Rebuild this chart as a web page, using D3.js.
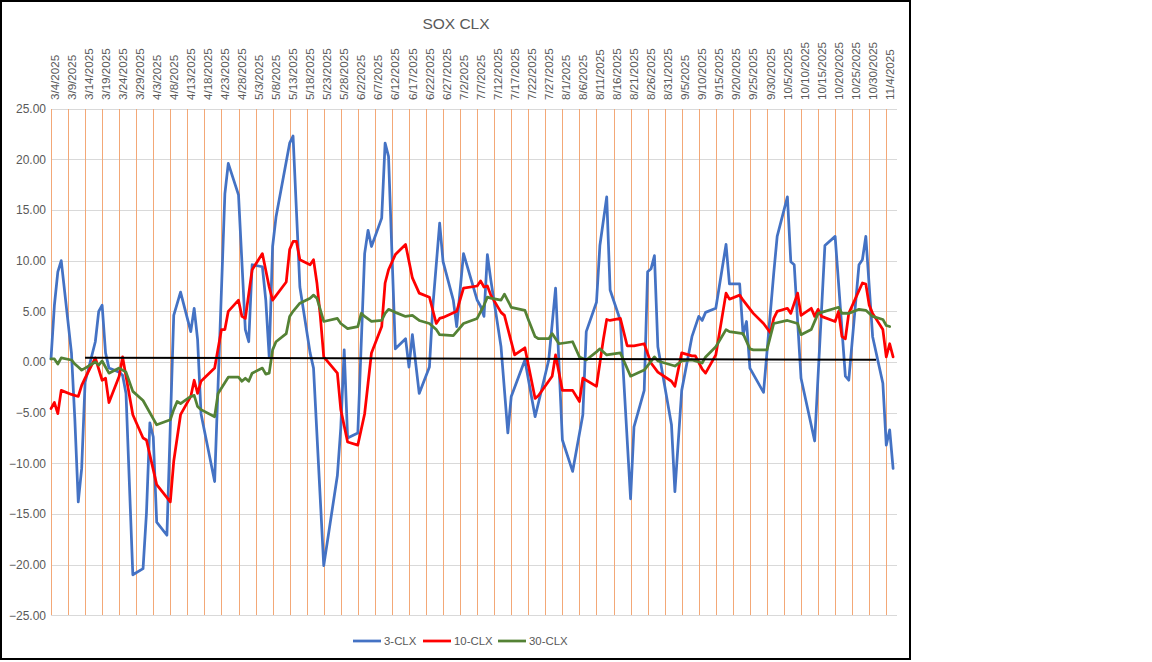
<!DOCTYPE html>
<html>
<head>
<meta charset="utf-8">
<script src="https://cdn.jsdelivr.net/npm/d3@7"></script>
<style>
  body { margin: 0; background: #fff; }
  text { font-family: "Liberation Sans", Arial, sans-serif; fill: #595959; }
</style>
</head>
<body>
<svg id="chart" width="1152" height="662"></svg>
<script>
// values, [date, value]
const clx3 = [["3/4",0.3],["3/5",5.6],["3/6",8.9],["3/7",10.0],["3/10",0.9],["3/11",-5.7],["3/12",-13.8],["3/13",-10.5],["3/14",-2.0],["3/17",2.0],["3/18",5.0],["3/19",5.6],["3/20",0.9],["3/21",-0.6],["3/24",-1.0],["3/25",-1.3],["3/26",-3.1],["3/28",-21.0],["3/31",-20.4],["4/1",-14.9],["4/2",-6.0],["4/3",-7.4],["4/4",-15.8],["4/7",-17.1],["4/9",4.6],["4/11",6.9],["4/14",3.0],["4/15",5.3],["4/16",2.2],["4/17",-5.1],["4/21",-11.8],["4/24",16.6],["4/25",19.6],["4/28",16.5],["4/30",3.2],["5/1",2.0],["5/2",9.6],["5/5",9.4],["5/6",6.1],["5/7",0.5],["5/8",11.4],["5/9",14.3],["5/13",21.6],["5/14",22.3],["5/16",7.4],["5/19",0.9],["5/20",-0.6],["5/23",-20.1],["5/27",-11.2],["5/28",-6.5],["5/29",1.2],["5/30",-7.5],["6/2",-7.0],["6/4",10.7],["6/5",13.0],["6/6",11.4],["6/9",14.2],["6/10",21.6],["6/11",20.3],["6/13",1.3],["6/16",2.3],["6/17",-0.5],["6/18",2.7],["6/20",-3.1],["6/23",-0.5],["6/24",5.5],["6/26",13.7],["6/27",9.9],["6/30",6.1],["7/1",3.5],["7/3",10.7],["7/7",6.1],["7/8",5.5],["7/9",4.5],["7/10",10.6],["7/11",8.1],["7/14",1.5],["7/16",-7.0],["7/17",-3.4],["7/21",0.2],["7/24",-5.4],["7/28",0.2],["7/30",7.3],["8/1",-7.7],["8/4",-10.8],["8/7",-5.2],["8/8",3.0],["8/11",5.9],["8/12",11.5],["8/14",16.3],["8/15",7.1],["8/18",4.1],["8/21",-13.5],["8/22",-6.4],["8/25",-2.8],["8/26",8.9],["8/27",9.2],["8/28",10.5],["8/29",1.5],["9/2",-6.2],["9/3",-12.8],["9/5",-2.8],["9/8",2.5],["9/10",4.5],["9/11",4.1],["9/12",4.9],["9/15",5.3],["9/16",7.4],["9/18",11.6],["9/19",7.7],["9/22",7.7],["9/23",2.7],["9/24",4.0],["9/25",-0.6],["9/29",-3.0],["10/2",8.8],["10/3",12.4],["10/6",16.3],["10/7",9.9],["10/8",9.6],["10/10",-1.6],["10/14",-7.8],["10/17",11.5],["10/20",12.4],["10/23",-1.4],["10/24",-1.8],["10/27",9.6],["10/28",10.1],["10/29",12.4],["10/31",2.5],["11/3",-2.1],["11/4",-8.2],["11/5",-6.7],["11/6",-10.5]];

const clx10 = [["3/4",-4.6],["3/5",-4.0],["3/6",-5.1],["3/7",-2.8],["3/10",-3.2],["3/12",-3.4],["3/13",-2.3],["3/14",-1.6],["3/17",0.4],["3/19",-1.8],["3/20",-1.6],["3/21",-4.0],["3/24",-1.4],["3/25",0.5],["3/26",-1.4],["3/28",-5.2],["3/31",-7.5],["4/1",-7.7],["4/4",-12.1],["4/8",-13.8],["4/9",-9.8],["4/11",-5.2],["4/14",-3.4],["4/15",-1.8],["4/16",-3.1],["4/17",-1.9],["4/21",-0.6],["4/23",3.2],["4/24",3.2],["4/25",5.0],["4/28",6.1],["4/29",4.5],["4/30",4.3],["5/2",9.1],["5/5",10.7],["5/7",7.4],["5/8",6.1],["5/12",7.9],["5/13",11.1],["5/14",11.9],["5/15",11.9],["5/16",10.1],["5/19",9.6],["5/20",10.1],["5/21",7.8],["5/22",4.5],["5/23",0.5],["5/27",-1.1],["5/28",-4.7],["5/30",-7.9],["6/2",-8.2],["6/4",-5.1],["6/5",-2.1],["6/6",0.9],["6/9",3.5],["6/10",7.8],["6/11",9.1],["6/13",10.6],["6/16",11.6],["6/18",8.3],["6/20",6.8],["6/23",6.4],["6/25",3.8],["6/26",4.3],["6/27",4.4],["7/1",5.0],["7/3",7.3],["7/7",7.5],["7/8",8.0],["7/9",7.4],["7/10",7.5],["7/11",6.6],["7/14",4.9],["7/15",4.6],["7/18",0.7],["7/21",1.4],["7/24",-3.6],["7/25",-3.3],["7/29",-1.4],["7/30",0.7],["8/1",-2.8],["8/4",-2.8],["8/6",-3.9],["8/7",-1.6],["8/11",-2.4],["8/13",2.2],["8/14",4.2],["8/15",4.1],["8/18",4.3],["8/20",1.6],["8/22",1.6],["8/25",1.8],["8/27",-0.1],["8/29",-1.0],["9/2",-1.9],["9/3",-2.4],["9/5",0.9],["9/8",0.6],["9/9",0.6],["9/11",-0.7],["9/12",-1.1],["9/15",0.7],["9/18",6.8],["9/19",6.2],["9/22",6.6],["9/23",6.1],["9/26",4.8],["9/29",3.8],["10/1",2.9],["10/2",4.3],["10/3",5.0],["10/6",5.3],["10/7",4.8],["10/9",6.8],["10/10",4.6],["10/13",5.3],["10/14",4.5],["10/15",5.2],["10/16",4.5],["10/20",4.0],["10/21",5.0],["10/22",2.5],["10/23",2.3],["10/24",4.8],["10/28",7.8],["10/29",7.7],["10/30",5.6],["10/31",4.8],["11/3",3.2],["11/4",0.5],["11/5",1.8],["11/6",0.5]];

const clx30 = [["3/4",0.3],["3/5",0.3],["3/6",-0.2],["3/7",0.4],["3/10",0.2],["3/11",-0.2],["3/12",-0.5],["3/13",-0.8],["3/14",-0.6],["3/17",0.0],["3/18",-0.3],["3/19",0.1],["3/21",-1.1],["3/24",-0.6],["3/26",-1.0],["3/28",-2.9],["3/31",-3.8],["4/4",-6.2],["4/8",-5.7],["4/9",-4.7],["4/10",-3.9],["4/11",-4.1],["4/14",-3.4],["4/15",-3.3],["4/16",-4.4],["4/17",-4.7],["4/21",-5.4],["4/22",-3.1],["4/25",-1.5],["4/28",-1.5],["4/29",-1.9],["4/30",-1.6],["5/1",-1.9],["5/2",-1.1],["5/5",-0.6],["5/6",-1.2],["5/7",-1.1],["5/8",1.2],["5/9",2.0],["5/12",2.8],["5/13",4.5],["5/14",5.0],["5/16",5.8],["5/19",6.3],["5/20",6.6],["5/21",6.3],["5/23",4.0],["5/27",4.3],["5/28",3.8],["5/30",3.3],["6/2",3.5],["6/3",4.8],["6/4",4.5],["6/6",4.0],["6/9",4.1],["6/10",4.8],["6/11",5.2],["6/13",4.9],["6/16",4.5],["6/18",4.6],["6/20",4.1],["6/23",3.8],["6/25",3.2],["6/26",2.7],["6/30",2.6],["7/1",3.0],["7/3",3.8],["7/7",4.3],["7/9",5.6],["7/10",6.4],["7/11",6.3],["7/14",6.1],["7/15",6.7],["7/17",5.4],["7/21",5.1],["7/22",4.2],["7/24",2.5],["7/25",2.3],["7/28",2.3],["7/29",2.8],["7/31",1.8],["8/4",2.0],["8/6",0.5],["8/8",0.2],["8/11",1.0],["8/12",1.3],["8/14",0.7],["8/18",0.9],["8/21",-1.4],["8/25",-0.8],["8/28",0.5],["8/29",0.1],["9/3",-0.4],["9/5",0.1],["9/8",0.2],["9/11",-0.1],["9/12",0.5],["9/15",1.5],["9/18",3.2],["9/19",3.0],["9/23",2.8],["9/25",1.3],["9/26",1.2],["9/30",1.2],["10/2",3.8],["10/6",4.1],["10/9",3.8],["10/10",2.7],["10/13",3.2],["10/15",4.8],["10/17",5.0],["10/21",5.4],["10/22",4.8],["10/24",4.8],["10/27",5.2],["10/29",5.1],["10/31",4.5],["11/3",4.2],["11/4",3.6],["11/5",3.5]];

// black reference line (start / end)
const refLine = [["3/14",0.43],["11/1",0.22]];

const seriesNames = ["3-CLX", "10-CLX", "30-CLX"];
const seriesColors = ["#4472C4", "#FF0000", "#548235"];

const xTickLabels = ["3/4/2025","3/9/2025","3/14/2025","3/19/2025","3/24/2025","3/29/2025","4/3/2025","4/8/2025","4/13/2025","4/18/2025","4/23/2025","4/28/2025","5/3/2025","5/8/2025","5/13/2025","5/18/2025","5/23/2025","5/28/2025","6/2/2025","6/7/2025","6/12/2025","6/17/2025","6/22/2025","6/27/2025","7/2/2025","7/7/2025","7/12/2025","7/17/2025","7/22/2025","7/27/2025","8/1/2025","8/6/2025","8/11/2025","8/16/2025","8/21/2025","8/26/2025","8/31/2025","9/5/2025","9/10/2025","9/15/2025","9/20/2025","9/25/2025","9/30/2025","10/5/2025","10/10/2025","10/15/2025","10/20/2025","10/25/2025","10/30/2025","11/4/2025"];
const yTicks = [-25, -20, -15, -10, -5, 0, 5, 10, 15, 20, 25];

const parse = d3.utcParse("%m/%d/%Y");
const toDate = s => parse(s.split("/").length === 3 ? s : s + "/2025");

const plot = {left: 51, right: 896.5, top: 108.7, bottom: 615.3};

const svg = d3.select("#chart");

// chart frame
svg.append("rect")
    .attr("x", 1).attr("y", 1).attr("width", 909).attr("height", 658)
    .attr("fill", "#fff").attr("stroke", "#000").attr("stroke-width", 2);

const x = d3.scaleUtc().domain([toDate("3/4"), toDate("11/7")]).range([plot.left, plot.right]);
const y = d3.scaleLinear().domain([-25, 25]).range([plot.bottom, plot.top]);

// horizontal grid + y labels
svg.append("g")
    .attr("transform", `translate(${plot.left},0)`)
    .call(d3.axisLeft(y).tickValues(yTicks).tickFormat(d3.format(".2f"))
        .tickSize(-(plot.right - plot.left)).tickPadding(5))
    .call(g => g.select(".domain").remove())
    .call(g => g.selectAll(".tick line").attr("stroke", "#D9D9D9").attr("shape-rendering", "crispEdges"))
    .call(g => g.selectAll(".tick text").attr("fill", "#595959")
        .style("font-size", "12px").style("font-family", "'Liberation Sans', Arial, sans-serif"));

// vertical grid
svg.append("g")
    .attr("transform", `translate(0,${plot.bottom})`)
    .call(d3.axisTop(x).tickValues(xTickLabels.map(toDate)).tickFormat("")
        .tickSize(plot.bottom - plot.top))
    .call(g => g.select(".domain").remove())
    .call(g => g.selectAll(".tick line").attr("stroke", "#F3A877").attr("shape-rendering", "crispEdges"));

// x labels on top, rotated
svg.append("g")
    .attr("transform", `translate(0,${plot.top})`)
    .call(d3.axisTop(x).tickValues(xTickLabels.map(toDate))
        .tickFormat(d3.utcFormat("%-m/%-d/%Y")).tickSize(0))
    .call(g => g.select(".domain").remove())
    .call(g => g.selectAll(".tick text")
        .attr("transform", "translate(3,-8.7) rotate(-90)")
        .attr("x", 0).attr("y", 0).attr("dy", "0.35em")
        .attr("text-anchor", "start").attr("fill", "#595959")
        .style("font-size", "11.6px").style("font-family", "'Liberation Sans', Arial, sans-serif"));

const line = d3.line().x(d => x(toDate(d[0]))).y(d => y(d[1]));

[clx3, clx10, clx30].forEach((data, i) => {
    svg.append("path")
        .datum(data)
        .attr("fill", "none")
        .attr("stroke", seriesColors[i])
        .attr("stroke-width", 2.75)
        .attr("stroke-linejoin", "round")
        .attr("stroke-linecap", "round")
        .attr("d", line);
});

svg.append("path")
    .datum(refLine)
    .attr("fill", "none").attr("stroke", "#000").attr("stroke-width", 2)
    .attr("d", line);

// title
svg.append("text")
    .attr("x", 456).attr("y", 29)
    .attr("text-anchor", "middle")
    .style("font-size", "15.5px")
    .text("SOX CLX");

// legend
const legendX = [353, 423, 498];
const legend = svg.append("g").attr("transform", "translate(0,641)");
seriesNames.forEach((name, i) => {
    legend.append("line")
        .attr("x1", legendX[i]).attr("x2", legendX[i] + 28)
        .attr("stroke", seriesColors[i]).attr("stroke-width", 2.75);
    legend.append("text")
        .attr("x", legendX[i] + 31).attr("dy", "0.35em")
        .style("font-size", "11.4px")
        .text(name);
});
</script>
</body>
</html>
